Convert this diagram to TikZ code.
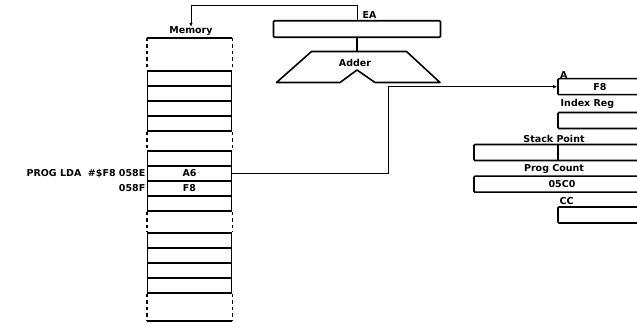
\documentclass[tikz,border=0pt]{standalone}
\usepackage{fontspec}
\setsansfont{DejaVu Sans}
\usetikzlibrary{arrows.meta,positioning,calc}

\begin{document}
\begin{tikzpicture}[
 x=1pt,y=-1pt,
 every node/.style={font=\sffamily\bfseries\fontsize{9.5}{11}\selectfont,inner sep=0pt},
 cell/.style={draw,line width=1.6pt,minimum width=84pt,minimum height=15pt},
 reg/.style={draw,line width=1.6pt,rounded corners=1pt,minimum width=84pt,minimum height=16pt},
 wreg/.style={reg,minimum width=168pt},
 gap/.style={line width=1.6pt,dash pattern=on 3.5pt off 3pt},
 wire/.style={line width=0.9pt},
 edge/.style={wire,-{Latex[length=4pt,width=3.5pt]}}
]
\useasboundingbox (0,0) rectangle (637,323);
\clip (0,0) rectangle (637,323);

% memory column
\node (memlbl) at (191,31.5) {Memory};
\node[cell] (m1) at (189.5,78.5) {};
\node[cell] (m2) at (189.5,93.5) {};
\node[cell] (m3) at (189.5,108.5) {};
\node[cell] (m4) at (189.5,123.5) {};
\node[cell] (m5) at (189.5,158.5) {};
\node[cell] (m6) at (189.5,173.5) {A6};
\node[cell] (m7) at (189.5,188.5) {F8};
\node[cell] (m8) at (189.5,203.5) {};
\node[cell] (m9) at (189.5,240.5) {};
\node[cell] (m10) at (189.5,255.5) {};
\node[cell] (m11) at (189.5,270.5) {};
\node[cell] (m12) at (189.5,285.5) {};
\coordinate (memtop) at (189.5,38);
\coordinate (membot) at (189.5,321);
\draw[line width=1.6pt,rounded corners=1pt] (m1.north west |- memtop) -- (m1.north east |- memtop);
\draw[line width=1.6pt,rounded corners=1pt] (m12.south west |- membot) -- (m12.south east |- membot);
\draw[gap] (m1.north west |- memtop) -- (m1.north west);
\draw[gap] (m1.north east |- memtop) -- (m1.north east);
\draw[gap] (m4.south west) -- (m5.north west);
\draw[gap] (m4.south east) -- (m5.north east);
\draw[gap] (m8.south west) -- (m9.north west);
\draw[gap] (m8.south east) -- (m9.north east);
\draw[gap] (m12.south west) -- (m12.south west |- membot);
\draw[gap] (m12.south east) -- (m12.south east |- membot);

\node[anchor=east] (prog) at (145.5,173.5) {PROG LDA \ \#\$F8 058E};
\node[anchor=east] (addr) at (145.5,188.5) {058F};

% EA and adder
\node[reg,minimum width=167pt,minimum height=16.5pt] (ea) at (357,29) {};
\node[anchor=south west] (ealbl) at (362.5,18.5) {EA};
\draw[line width=1.6pt,line join=round] (311.5,51.5) -- (406.5,51.5) -- (440,82.5) -- (375,82.5)
  -- (357,70) -- (340,82.5) -- (276.5,82.5) -- cycle;
\node (adder) at (355,63) {Adder};
\coordinate (addtop) at (357,51.5);
\draw[line width=1.2pt] (ea.south) -- (addtop);
\coordinate (topbend) at (191,5);
\draw[edge] (ea.north) |- (topbend) -- (memlbl.north);

% registers
\node[reg] (rega) at (600,86.7) {F8};
\node[anchor=south west] (albl) at (560,78.5) {A};
\node[reg] (ix) at (600,120.5) {};
\node[anchor=south west] (ixlbl) at (560.5,108.5) {Index Reg};
\node[wreg] (sp) at (558,152.5) {};
\draw[line width=1.6pt] (sp.north) -- (sp.south);
\node[anchor=south] (splbl) at (554,143) {Stack Point};
\node[wreg] (pc) at (558,184.2) {\hspace*{8pt}05C0};
\node[anchor=south] (pclbl) at (554,174) {Prog Count};
\node[reg] (cc) at (600,215) {};
\node[anchor=south west] (cclbl) at (559.5,205) {CC};

\coordinate (turn) at (388,86.7);
\draw[edge] (m6.east) -| (turn) -- (rega.west);
\end{tikzpicture}
\end{document}
